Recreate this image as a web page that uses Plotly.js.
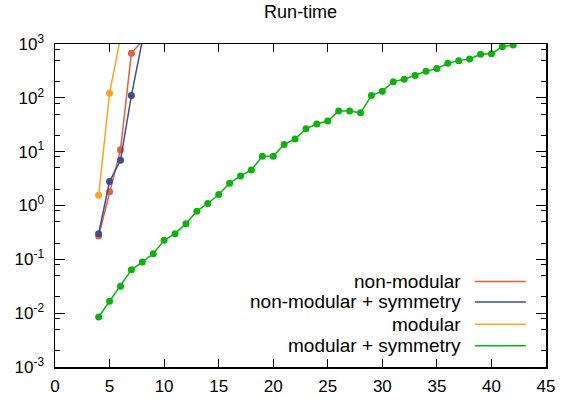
<!DOCTYPE html>
<html>
<head>
<meta charset="utf-8">
<script src="https://cdn.plot.ly/plotly-3.0.1.min.js"></script>
<style>html,body{margin:0;padding:0;background:#fff;}#chart{width:571px;height:402px;}</style>
</head>
<body>
<div id="chart"></div>
<script>
// Data
const seriesNames = ["non-modular", "non-modular + symmetry", "modular", "modular + symmetry"];
const seriesColors = ["#e5603d", "#3c4e8c", "#ffa41c", "#0cb30c"];

const nonModularX = [4, 5, 6, 7, 8];
const nonModularY = [0.27, 1.8, 10.9, 670, 1150];

const nonModularSymX = [4, 5, 6, 7, 8];
const nonModularSymY = [0.30, 2.78, 6.9, 110, 1150];

const modularX = [4, 5, 6];
const modularY = [1.55, 122, 1300];

const modularSymX = [4, 5, 6, 7, 8, 9, 10, 11, 12, 13, 14, 15, 16, 17, 18, 19, 20, 21, 22, 23,
  24, 25, 26, 27, 28, 29, 30, 31, 32, 33, 34, 35, 36, 37, 38, 39, 40, 41, 42];
const modularSymY = [0.0085, 0.0166, 0.0316, 0.064, 0.089, 0.127, 0.225, 0.30, 0.46, 0.785,
  1.09, 1.6, 2.59, 3.55, 4.58, 8.2, 8.2, 13.6, 17.2, 26.7,
  32.6, 37, 56.8, 56.8, 52.7, 110, 133, 200, 222, 259,
  312, 349, 439, 491, 527, 644, 661, 891, 960];

const xTickVals = [0, 5, 10, 15, 20, 25, 30, 35, 40, 45];
const yTickVals = [0.001, 0.01, 0.1, 1, 10, 100, 1000];
const yTickText = ["10<sup>-3</sup>", "10<sup>-2</sup>", "10<sup>-1</sup>", "10<sup>0</sup>",
  "10<sup>1</sup>", "10<sup>2</sup>", "10<sup>3</sup>"];
const minorMultipliers = [2, 5, 8];

const xs = [nonModularX, nonModularSymX, modularX, modularSymX];
const ys = [nonModularY, nonModularSymY, modularY, modularSymY];

const traces = xs.map((x, i) => ({
  x: x, y: ys[i], type: "scatter", mode: "lines+markers", name: seriesNames[i],
  line: {color: seriesColors[i], width: 1.5},
  marker: {color: seriesColors[i], size: 7, symbol: "circle"},
  cliponaxis: true, showlegend: false
}));

const minorVals = [];
yTickVals.slice(0, -1).forEach(d => minorMultipliers.forEach(m => minorVals.push(d * m)));

const font = "Liberation Sans, Arial, sans-serif";

// legend built from annotations and short line shapes (text left, sample right)
const legendRowsY = [0.265, 0.2015, 0.132, 0.0655];
const annotations = seriesNames.map((n, i) => ({
  xref: "paper", yref: "paper", x: 0.831, y: legendRowsY[i], xanchor: "right", yanchor: "middle",
  text: n, showarrow: false, font: {family: font, size: 19, color: "#000"}
}));
const shapes = seriesNames.map((n, i) => ({
  type: "line", xref: "paper", yref: "paper", x0: 0.855, x1: 0.959, y0: legendRowsY[i], y1: legendRowsY[i],
  line: {color: seriesColors[i], width: 1.5}
}));

const layout = {
  width: 571, height: 402,
  margin: {l: 55, r: 25, t: 44, b: 34.5, pad: 0},
  paper_bgcolor: "#fff", plot_bgcolor: "#fff",
  font: {family: font, size: 17, color: "#000"},
  title: {text: "Run-time", x: 0.5265, xanchor: "center", y: 0.972, yanchor: "middle",
    font: {family: font, size: 18, color: "#000"}},
  xaxis: {
    range: [0, 45], tickmode: "array", tickvals: xTickVals,
    ticks: "inside", ticklen: 8, tickwidth: 1, tickcolor: "#000",
    showline: true, linecolor: "#000", linewidth: 1.5, mirror: "ticks",
    showgrid: false, zeroline: false, ticklabelstandoff: 3,
    tickfont: {family: font, size: 17, color: "#000"}
  },
  yaxis: {
    type: "log", range: [-3, 3], tickmode: "array", tickvals: yTickVals, ticktext: yTickText,
    ticks: "inside", ticklen: 10, tickwidth: 1, tickcolor: "#000",
    minor: {tickmode: "array", tickvals: minorVals, ticks: "inside", ticklen: 5, tickwidth: 1, tickcolor: "#000", showgrid: false},
    showline: true, linecolor: "#000", linewidth: 1.5, mirror: "ticks",
    showgrid: false, zeroline: false, ticklabelstandoff: 6,
    tickfont: {family: font, size: 17, color: "#000"}
  },
  annotations: annotations,
  shapes: shapes,
  showlegend: false
};

Plotly.newPlot("chart", traces, layout, {staticPlot: true, displayModeBar: false});
</script>
</body>
</html>
